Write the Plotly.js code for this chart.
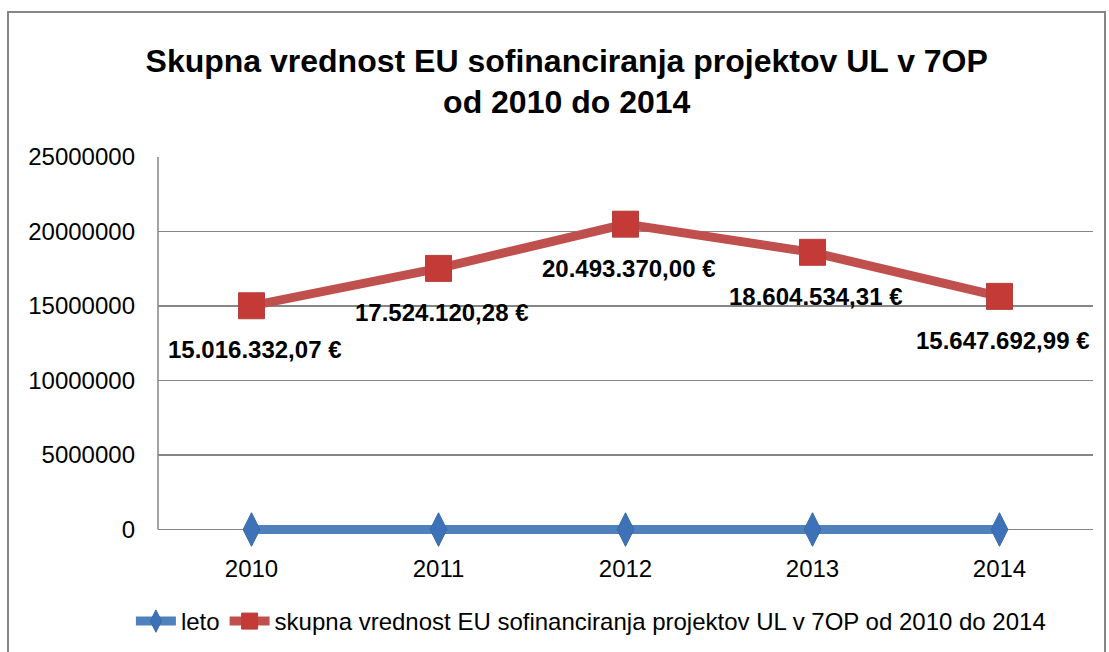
<!DOCTYPE html>
<html>
<head>
<meta charset="utf-8">
<script src="https://cdn.plot.ly/plotly-3.0.1.min.js"></script>
<style>
html,body{margin:0;padding:0;background:#fff;}
#wrap{position:relative;width:1109px;height:652px;overflow:hidden;}
#chart{width:1109px;height:652px;}
#frame{position:absolute;left:7px;top:11px;width:1099px;height:660px;border:2px solid #868686;pointer-events:none;box-sizing:border-box;}
</style>
</head>
<body>
<div id="wrap"><div id="chart"></div><div id="frame"></div></div>
<script>
var years = ['2010', '2011', '2012', '2013', '2014'];
var leto = [2010, 2011, 2012, 2013, 2014];
var vrednost = [15016332.07, 17524120.28, 20493370.00, 18604534.31, 15647692.99];
var labels = ['15.016.332,07 €', '17.524.120,28 €', '20.493.370,00 €', '18.604.534,31 €', '15.647.692,99 €'];
var yTicks = [0, 5000000, 10000000, 15000000, 20000000, 25000000];
var yTickText = ['0', '5000000', '10000000', '15000000', '20000000', '25000000'];
var seriesNames = ['leto', 'skupna vrednost EU sofinanciranja projektov UL v 7OP od 2010 do 2014'];
var titleText = 'Skupna vrednost EU sofinanciranja projektov UL v 7OP<br>od 2010 do 2014';

var FONT = 'Liberation Sans, Arial, sans-serif';
var yMin = yTicks[0], yMax = yTicks[yTicks.length - 1];
var yPad = 700000; // room below zero so the thick zero-level line is not clipped

var traces = [
  {
    x: years, y: leto, name: seriesNames[0], type: 'scatter', mode: 'lines+markers',
    line: {color: '#4F81BD', width: 9},
    marker: {symbol: 'diamond-tall', size: 24, color: '#3D72B8', line: {color: '#3A6AA8', width: 1}},
    cliponaxis: false, hoverinfo: 'none'
  },
  {
    x: years, y: vrednost, name: seriesNames[1], type: 'scatter', mode: 'lines+markers',
    line: {color: '#C0504D', width: 9},
    marker: {symbol: 'square', size: 26, color: '#C33A36', line: {color: '#B4403D', width: 1}},
    cliponaxis: false, hoverinfo: 'none'
  }
];

var annotations = years.map(function (yr, i) {
  return {
    x: i, y: vrednost[i], xref: 'x', yref: 'y',
    text: '<b>' + labels[i] + '</b>', showarrow: false,
    yshift: -44, xshift: 3,
    font: {family: FONT, size: 24, color: '#000'}
  };
});

var shapes = [{
  type: 'line', xref: 'paper', yref: 'y', x0: 0, x1: 0, y0: yMin, y1: yMax,
  line: {color: '#868686', width: 1.5}, layer: 'below'
}];

var layout = {
  width: 1109, height: 652,
  margin: {l: 158, r: 16, t: 157, b: 112, autoexpand: false},
  paper_bgcolor: '#fff', plot_bgcolor: '#fff',
  showlegend: true,
  title: {
    text: '<b>' + titleText + '</b>',
    font: {family: FONT, size: 32, color: '#000'},
    x: 0.511, xanchor: 'center', y: 0.89, yanchor: 'top'
  },
  xaxis: {
    type: 'category', showgrid: false, zeroline: false,
    showline: false, ticks: '',
    tickfont: {family: FONT, size: 24, color: '#000'},
    ticklabelstandoff: 12,
    range: [-0.5, 4.5], fixedrange: true
  },
  yaxis: {
    range: [yMin - yPad, yMax], tickvals: yTicks, ticktext: yTickText,
    showgrid: true, gridcolor: '#868686', gridwidth: 1.5,
    zeroline: true, zerolinecolor: '#868686', zerolinewidth: 1.5,
    showline: false, ticks: '', tickfont: {family: FONT, size: 24, color: '#000'},
    ticklabelstandoff: 22, fixedrange: true
  },
  legend: {
    orientation: 'h', x: 0.463, xanchor: 'center', y: -0.154, yanchor: 'top',
    font: {family: FONT, size: 24, color: '#000'},
    itemwidth: 40, tracegroupgap: 0
  },
  shapes: shapes,
  annotations: annotations
};

Plotly.newPlot('chart', traces, layout, {displayModeBar: false, staticPlot: true});
</script>
</body>
</html>
